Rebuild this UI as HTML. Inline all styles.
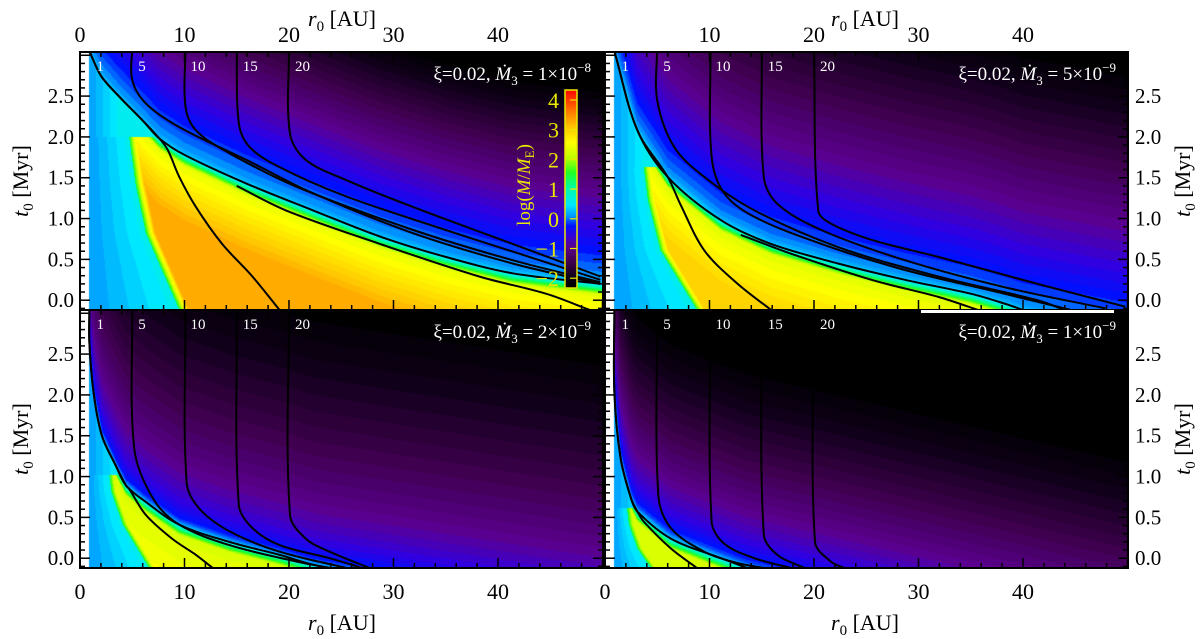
<!DOCTYPE html>
<html><head><meta charset="utf-8">
<style>
html,body{margin:0;padding:0;background:#fff;width:1200px;height:639px;overflow:hidden}
#wrap{position:relative;width:1200px;height:639px}
canvas{position:absolute}
svg{position:absolute;left:0;top:0}
text{font-family:"Liberation Serif",serif}
</style></head>
<body>
<div id="wrap">
<canvas id="c0" width="523" height="258" style="left:80px;top:52px"></canvas>
<canvas id="c1" width="523" height="258" style="left:605px;top:52px"></canvas>
<canvas id="c2" width="523" height="258" style="left:80px;top:310px"></canvas>
<canvas id="c3" width="523" height="258" style="left:605px;top:310px"></canvas>
<svg id="ov" width="1200" height="639"></svg>
</div>
<script>
// ---- data ----
const mdotLabels = ["1×10","5×10","2×10","1×10"];
const mdotExps = ["−8","−9","−9","−9"];
const finalRadii = [1,5,10,15,20];
const xTicks = [0,10,20,30,40];
const yTicks = [0.0,0.5,1.0,1.5,2.0,2.5];
const cbTicks = [4,3,2,1,0,-1,-2];
const band0 = [[0.9,3.05],[2,2.75],[3.7,2.5],[6,2.2],[7.6,1.98],[10,1.78],[15.9,1.43],[22.3,1.10],[28.7,0.78],[35,0.53],[41.4,0.33],[49.8,0.2]];
const band1 = [[0.9,3.05],[3.1,2.08],[6,1.51],[11.1,0.98],[15.9,0.69],[22.3,0.45],[28.7,0.25],[35,0.08],[38.2,-0.04],[40,-0.12]];
const band2 = [[0.9,3.05],[0.9,2.64],[1.3,2.03],[2.1,1.5],[3.4,1.14],[4.4,0.89],[6.3,0.69],[9.5,0.41],[14.3,0.2],[19.1,0.04],[22.3,-0.08],[24,-0.12]];
const band3 = [[0.9,3.05],[0.9,2.03],[1.5,1.22],[2.5,0.73],[3.1,0.57],[6.3,0.24],[11.1,0],[13.6,-0.12]];
const edge0 = [[4.7,2.0],[5.3,1.43],[6.3,0.82],[9.5,-0.12]];
const edge1 = [[3.7,1.63],[4.1,1.22],[5.3,0.61],[8.8,-0.12]];
const edge2 = [[2.8,1.02],[3.0,0.81],[4.1,0.41],[6.6,-0.12]];
const edge3 = [[2.1,0.61],[2.3,0.41],[3.1,0.12],[4.4,-0.12]];
const inner0 = [[7.6,1.98],[8.4,1.84],[9.5,1.51],[11.1,1.14],[13.6,0.69],[16.5,0.29],[19.1,-0.12]];
const inner1 = [[6,1.51],[7.2,1.18],[9.5,0.61],[12.7,0.2],[15.9,-0.12]];
const inner2 = [[4.4,0.89],[4.7,0.85],[6.3,0.53],[8.8,0.24],[11.1,0.04],[12.7,-0.12]];
const inner3 = [[3.1,0.57],[3.7,0.45],[6.3,0.12],[8.8,-0.12]];
const tracks0 = [
 [[5,3.1],[5,2.7],[6.3,2.41],[9.5,2.12],[15.9,1.72],[22.3,1.31],[31.9,0.82],[41.4,0.45],[49.8,0.2]],
 [[10.1,3.1],[10.1,2.37],[11.1,2.08],[14.3,1.8],[20.7,1.39],[31.9,0.86],[41.4,0.49],[49.8,0.22]],
 [[15,3.1],[15.2,2.17],[16.2,1.88],[19.1,1.63],[25.5,1.27],[35,0.86],[43,0.53],[49.8,0.25]],
 [[20,3.1],[20.1,2.04],[21.6,1.72],[25.5,1.47],[31.9,1.14],[41.4,0.69],[49.8,0.29]],
 [[15,1.4],[19.7,1.1],[28.7,0.69],[38.2,0.29],[44.6,0.08],[48.8,-0.12]]];
const tracks1 = [
 [[5,3.1],[5,2.45],[6.6,1.88],[9.5,1.51],[14.3,1.10],[22.3,0.65],[31.9,0.29],[41.4,0.0],[44,-0.12]],
 [[10.1,3.1],[10.2,1.76],[11.4,1.31],[14.3,1.02],[20.7,0.69],[28.7,0.37],[38.2,0.08],[44.6,-0.12]],
 [[15,3.1],[15.2,1.51],[16.5,1.18],[20.7,0.86],[28.7,0.49],[38.2,0.16],[47.9,-0.1]],
 [[20,3.1],[20.4,1.10],[21.6,0.94],[25.5,0.74],[31.9,0.53],[41.4,0.2],[49.8,-0.08]],
 [[13,0.8],[17.8,0.57],[25.5,0.25],[31.9,0.04],[35.7,-0.12]]];
const tracks2 = [
 [[5,3.1],[5.2,1.34],[7,0.73],[9.5,0.41],[14.3,0.16],[20.7,-0.04],[23.9,-0.12]],
 [[10.1,3.1],[10.2,0.93],[11.4,0.61],[14.3,0.33],[19.1,0.08],[25.5,-0.12]],
 [[15,3.1],[15.2,0.65],[16.5,0.37],[19.1,0.16],[23.9,0],[27,-0.12]],
 [[20,3.1],[20.1,0.53],[21.6,0.24],[23.9,0.08],[27.7,-0.12]]];
const tracks3 = [
 [[5,3.1],[5.1,0.77],[6.3,0.37],[9.5,0.08],[12.7,-0.06],[15.2,-0.12]],
 [[10.1,3.1],[10.2,0.45],[11.4,0.18],[14.3,0],[17.8,-0.12]],
 [[15,3.1],[15.2,0.29],[16.5,0.04],[19.1,-0.12]],
 [[20,3.1],[20.1,0.2],[21.6,-0.04],[22.9,-0.12]]];
const decayK = [1.0,0.9,1.33,1.4];
const decayP = [1.0,0.85,0.52,0.6];
const peakLogM = [3.2,2.95,2.55,2.25];

// ---- layout ----
const X0=[80,605,80,605], Y0=[52,52,310,310], W=523, H=258;
const RMAX=50.05, TMAX=3.04, TMIN=-0.12;
const bands=[band0,band1,band2,band3], edges=[edge0,edge1,edge2,edge3];
const inners=[inner0,inner1,inner2,inner3], tracks=[tracks0,tracks1,tracks2,tracks3];
const stops=[[-2.3,[0,0,0]],[-2,[16,0,26]],[-1.5,[64,0,80]],[-1.0,[90,0,144]],[-0.6,[48,0,224]],[-0.3,[0,16,255]],[0,[0,144,255]],[0.4,[0,232,255]],[1.0,[0,255,160]],[1.5,[32,255,32]],[2.0,[192,255,0]],[2.5,[255,255,0]],[3.0,[255,200,0]],[3.5,[255,128,0]],[4.2,[255,16,0]]];
function cmap(v){
  if(v<=stops[0][0]) return stops[0][1];
  for(let i=1;i<stops.length;i++){ if(v<=stops[i][0]){const a=stops[i-1],b=stops[i];const f=(v-a[0])/(b[0]-a[0]);
    return [0,1,2].map(k=>a[1][k]+(b[1][k]-a[1][k])*f);} }
  return stops[stops.length-1][1];
}
function interpR(pts,r){
  if(r<=pts[0][0]) return pts[0][1];
  for(let i=1;i<pts.length;i++){ if(r<=pts[i][0]){const a=pts[i-1],b=pts[i]; if(b[0]===a[0]) return b[1]; return a[1]+(b[1]-a[1])*(r-a[0])/(b[0]-a[0]);} }
  const n=pts.length, a=pts[n-3], b=pts[n-1];
  const s=(b[1]-a[1])/(b[0]-a[0])*0.6;
  return b[1]+s*(r-b[0]);
}
function interpT(pts,t){
  if(t>pts[0][1]) return Infinity;
  for(let i=1;i<pts.length;i++){ if(t>=pts[i][1]){const a=pts[i-1],b=pts[i]; return a[0]+(b[0]-a[0])*(t-a[1])/(b[1]-a[1]);} }
  return pts[pts.length-1][0];
}
for(let p=0;p<4;p++){
  const cv=document.getElementById('c'+p), ctx=cv.getContext('2d'), img=ctx.createImageData(W,H);
  for(let py=0;py<H;py++){ const t=TMAX-(py+0.5)/H*(TMAX-TMIN); const re=interpT(edges[p],t);
    for(let px=0;px<W;px++){ const r=(px+0.5)/W*RMAX; let col;
      if(r<0.9){col=[255,255,255];}
      else{ const d=t-interpR(bands[p],r); let v;
        if(d>0){ v=0.3-Math.min(0.15,d*2)-decayK[p]*Math.pow(d,decayP[p]); }
        else if(r<re){ const span=isFinite(re)?Math.max(1,re-0.9):3; v=0.1+0.45*Math.min(1,(r-0.9)/span); }
        else { const vY=2.2+(peakLogM[p]-2.2)*Math.min(1,-d/0.8); v=Math.min(vY,0.3+15*(-d),1.4+2*(r-re)); }
        v=Math.floor(v/0.1)*0.1; col=cmap(v); }
      const i=(py*W+px)*4; img.data[i]=col[0];img.data[i+1]=col[1];img.data[i+2]=col[2];img.data[i+3]=255; } }
  ctx.putImageData(img,0,0);
}
// ---- overlay ----
const NS="http://www.w3.org/2000/svg", ov=document.getElementById('ov');
function mk(tag,attrs,parent){const e=document.createElementNS(NS,tag);for(const k in attrs)e.setAttribute(k,attrs[k]);(parent||ov).appendChild(e);return e;}
function sx(p,r){return X0[p]+r/RMAX*W;}
function sy(p,t){return Y0[p]+(TMAX-t)/(TMAX-TMIN)*H;}
function unit(a,b){const dx=b[0]-a[0],dy=b[1]-a[1],l=Math.hypot(dx,dy)||1;return [dx/l,dy/l];}
function smooth(pts){
  let d="M"+pts[0][0].toFixed(1)+","+pts[0][1].toFixed(1);
  for(let i=0;i<pts.length-1;i++){const p0=pts[Math.max(0,i-1)],p1=pts[i],p2=pts[i+1],p3=pts[Math.min(pts.length-1,i+2)];
    const L=Math.hypot(p2[0]-p1[0],p2[1]-p1[1])/3;
    const u1=unit(p0,p2),u2=unit(p1,p3);
    const c1=[p1[0]+u1[0]*L,p1[1]+u1[1]*L],c2=[p2[0]-u2[0]*L,p2[1]-u2[1]*L];
    d+="C"+c1.map(v=>v.toFixed(1))+" "+c2.map(v=>v.toFixed(1))+" "+p2.map(v=>v.toFixed(1));}
  return d;
}
const defs=mk('defs',{});
for(let p=0;p<4;p++){
  const cp=mk('clipPath',{id:'clip'+p},defs); mk('rect',{x:X0[p],y:Y0[p],width:W,height:H},cp);
  const g=mk('g',{'clip-path':'url(#clip'+p+')'});
  
  
  const l1=bands[p].slice(0,bands[p].findIndex(q=>q[0]===inners[p][0][0]&&q[1]===inners[p][0][1])+1).concat(inners[p].slice(1));
  const all=[l1,bands[p]].concat(tracks[p]);
  all.forEach((tr,j)=>{const e=mk('path',{d:smooth(tr.map(q=>[sx(p,q[0]),sy(p,q[1])])),fill:'none',stroke:'#000','stroke-width':2},g);
    
    });
  const tk=mk('g',{stroke:'#000','stroke-width':1.5});
  
  
  for(let r=0;r<=50;r+=2){const x=sx(p,r),L=(r%10===0)?10:5;
    mk('line',{x1:x,x2:x,y1:Y0[p]+H,y2:Y0[p]+H-L},tk);mk('line',{x1:x,x2:x,y1:Y0[p],y2:Y0[p]+L},tk);}
  for(let k=-1;k<=30;k++){const t=k/10;const y=sy(p,t);if(y<Y0[p]||y>Y0[p]+H)continue;const L=(k%5===0)?10:5;
    mk('line',{x1:X0[p],x2:X0[p]+L,y1:y,y2:y},tk);mk('line',{x1:X0[p]+W,x2:X0[p]+W-L,y1:y,y2:y},tk);}
  const fr=mk('rect',{x:X0[p],y:Y0[p],width:W,height:H,fill:'none',stroke:'#000','stroke-width':2});
  
  
  finalRadii.forEach(rf=>{const e=mk('text',{x:sx(p,rf)+6,y:Y0[p]+19,fill:'#fff','font-size':15},undefined);e.textContent=String(rf);
    
    });
  const tt=mk('text',{x:X0[p]+511,y:Y0[p]+28,fill:'#fff','font-size':19,'text-anchor':'end'});
  
  
  tt.innerHTML='ξ=0.02, <tspan font-style="italic">Ṁ</tspan><tspan font-size="13" dy="5">3</tspan><tspan dy="-5"> = '+mdotLabels[p]+'</tspan><tspan font-size="13" dy="-8">'+mdotExps[p]+'</tspan>';
}
{const w=mk('rect',{x:921,y:310,width:193,height:3,fill:'#fff'});
 
 }
for(const p of [0,1]){
  xTicks.forEach(v=>{ if(p===1&&v===0)return; const e=mk('text',{x:sx(p,v),y:42,'font-size':22,'text-anchor':'middle'});e.textContent=String(v);
    
    });
  xTicks.forEach(v=>{const e=mk('text',{x:sx(p,v),y:599,'font-size':22,'text-anchor':'middle'});e.textContent=String(v);
    
    });
  const cx=p===0?342:865;
  const a=mk('text',{x:cx,y:26,'font-size':22,'text-anchor':'middle'});a.innerHTML='<tspan font-style="italic">r</tspan><tspan font-size="15" dy="5">0</tspan><tspan dy="-5"> [AU]</tspan>';
  
  
  const b=mk('text',{x:cx,y:630,'font-size':22,'text-anchor':'middle'});b.innerHTML=a.innerHTML;
  
  
}
[0,2].forEach(p=>{yTicks.forEach(v=>{const e=mk('text',{x:74,y:sy(p,v)+7,'font-size':21,'text-anchor':'end'});e.textContent=v.toFixed(1);
  
  });
  const cy=Y0[p]+H/2; const e=mk('text',{x:0,y:0,'font-size':22,'text-anchor':'middle',transform:'translate(28,'+cy+') rotate(-90)'});
  e.innerHTML='<tspan font-style="italic">t</tspan><tspan font-size="15" dy="5">0</tspan><tspan dy="-5"> [Myr]</tspan>';
  
  });
[1,3].forEach(p=>{yTicks.forEach(v=>{const e=mk('text',{x:1135,y:sy(p,v)+7,'font-size':21});e.textContent=v.toFixed(1);
  
  });
  const cy=Y0[p]+H/2; const e=mk('text',{x:0,y:0,'font-size':22,'text-anchor':'middle',transform:'translate(1190,'+cy+') rotate(-90)'});
  e.innerHTML='<tspan font-style="italic">t</tspan><tspan font-size="15" dy="5">0</tspan><tspan dy="-5"> [Myr]</tspan>';
  
  });
const cbY=v=>100+(4-v)*29.7;
const grad=mk('linearGradient',{id:'cbg',x1:0,y1:1,x2:0,y2:0},defs);
for(let v=-2.34;v<=4.34;v+=0.1){const c=cmap(Math.floor(v/0.1)*0.1);mk('stop',{offset:((v+2.34)/6.68).toFixed(3),'stop-color':'rgb('+c.map(Math.round)+')'},grad);}
const cb=mk('rect',{x:565,y:90,width:12,height:198,fill:'url(#cbg)',stroke:'#e8e800','stroke-width':1.5});


cbTicks.forEach(v=>{const y=cbY(v);mk('line',{x1:570,x2:577,y1:y,y2:y,stroke:'#e8e800','stroke-width':1.2});
  const e=mk('text',{x:559,y:y+8,'font-size':22,fill:'#e8e800','text-anchor':'end'});e.textContent=v<0?'−'+(-v):String(v);
  
  });
const ct=mk('text',{x:0,y:0,'font-size':19,fill:'#e8e800','text-anchor':'middle',transform:'translate(530,185) rotate(-90)'});
ct.innerHTML='log(<tspan font-style="italic">M</tspan>/<tspan font-style="italic">M</tspan><tspan font-size="13" dy="4">E</tspan><tspan dy="-4">)</tspan>';


</script>
</body></html>
